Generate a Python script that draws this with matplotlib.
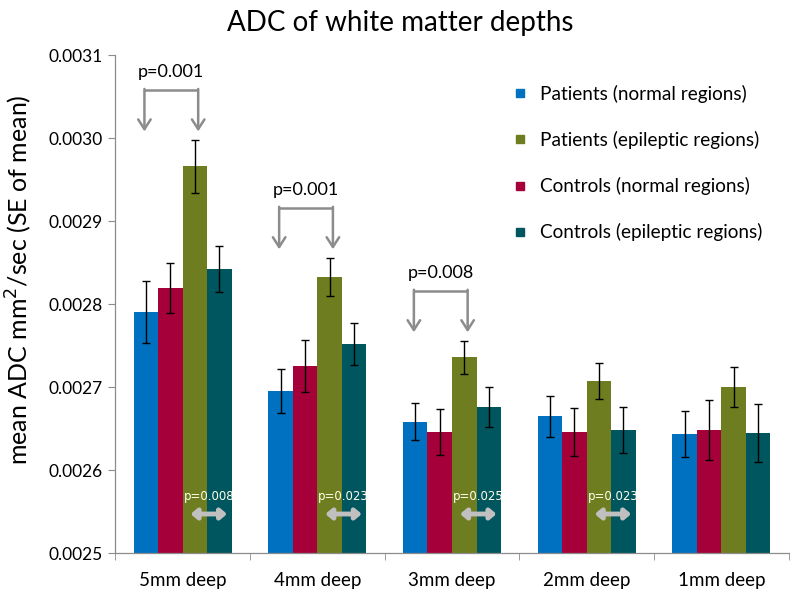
import numpy as np
import matplotlib
matplotlib.use("Agg")
import matplotlib.pyplot as plt
from matplotlib.lines import Line2D

plt.rcParams["font.family"] = ["Lato", "DejaVu Sans"]

# data
CATEGORIES = ["5mm deep", "4mm deep", "3mm deep", "2mm deep", "1mm deep"]

SERIES_NAMES = [
    "Patients (normal regions)",
    "Controls (normal regions)",
    "Patients (epileptic regions)",
    "Controls (epileptic regions)",
]

patients_normal = [0.002790, 0.002695, 0.002658, 0.002665, 0.002643]
controls_normal = [0.002819, 0.002725, 0.002646, 0.002646, 0.002648]
patients_epileptic = [0.002966, 0.002833, 0.002736, 0.002707, 0.002700]
controls_epileptic = [0.002842, 0.002752, 0.002676, 0.002648, 0.002645]

patients_normal_se = [0.0000373, 0.0000265, 0.0000223, 0.0000247, 0.0000277]
controls_normal_se = [0.0000300, 0.0000313, 0.0000277, 0.0000290, 0.0000360]
patients_epileptic_se = [0.0000320, 0.0000230, 0.0000200, 0.0000217, 0.0000240]
controls_epileptic_se = [0.0000280, 0.0000253, 0.0000240, 0.0000277, 0.0000350]

# patients normal vs patients epileptic (bracket above)
bracket_groups = [0, 1, 2]
bracket_labels = ["p=0.001", "p=0.001", "p=0.008"]

# patients epileptic vs controls epileptic (arrow near bottom)
bottom_groups = [0, 1, 2, 3]
bottom_labels = ["p=0.008", "p=0.023", "p=0.025", "p=0.023"]

COLORS = ["#0070C0", "#A5003A", "#6E7D1F", "#00565F"]
LEGEND_ORDER = [0, 2, 1, 3]
GRAY = "#8C8C8C"


def main():
    fig = plt.figure(figsize=(8.0, 5.97), dpi=100)
    ax = fig.add_axes([0.144, 0.0737, 0.842, 0.834])

    values = [patients_normal, controls_normal, patients_epileptic, controls_epileptic]
    errors = [patients_normal_se, controls_normal_se, patients_epileptic_se, controls_epileptic_se]

    x = np.arange(len(CATEGORIES))
    width = 0.182

    for i, (vals, errs) in enumerate(zip(values, errors)):
        offset = (i - 1.5) * width
        ax.bar(
            x + offset,
            vals,
            width=width,
            color=COLORS[i],
            yerr=errs,
            error_kw=dict(ecolor="black", elinewidth=1.0, capsize=3, capthick=1.0),
            zorder=2,
        )

    # brackets between patient normal and patient epileptic bars
    for g, label in zip(bracket_groups, bracket_labels):
        xl = x[g] - 1.5 * width - 0.01
        xr = x[g] + 0.5 * width + 0.025
        tip = patients_epileptic[g] + patients_epileptic_se[g] + 0.00001
        top = tip + 0.00005
        ax.plot([xl, xr], [top, top], color=GRAY, lw=1.8, solid_capstyle="butt", zorder=3)
        for xa in (xl, xr):
            ax.annotate(
                "",
                xy=(xa, tip),
                xytext=(xa, top + 0.0000012),
                arrowprops=dict(arrowstyle="->,head_length=0.7,head_width=0.45",
                                color=GRAY, lw=1.8, shrinkA=0, shrinkB=0),
                zorder=3,
            )
        ax.text((xl + xr) / 2, top + 0.000022, label, ha="center", va="center",
                fontsize=13, color="black")

    # double arrows near the bottom
    for g, label in zip(bottom_groups, bottom_labels):
        ax.annotate(
            "",
            xy=(x[g] + 0.33, 0.002547),
            xytext=(x[g] + 0.06, 0.002547),
            arrowprops=dict(arrowstyle="<|-|>,head_length=0.35,head_width=0.3",
                            color="#C0C0C0", lw=3.5, shrinkA=0, shrinkB=0),
            zorder=3,
        )
        ax.text(x[g] + 0.195, 0.0025675, label, ha="center", va="center",
                fontsize=8.5, color="#FFFFE8", family=["DejaVu Sans"], zorder=4)

    ax.set_xlim(-0.5, len(CATEGORIES) - 0.5)
    ax.set_ylim(0.0025, 0.0031)
    yticks = np.arange(0.0025, 0.00311, 0.0001)
    ax.set_yticks(yticks)
    ax.set_yticklabels([f"{v:.4f}" for v in yticks], fontsize=12.5)

    ax.set_xticks(x)
    ax.set_xticklabels(CATEGORIES, fontsize=13.5)
    ax.set_xticks(np.arange(-0.5, len(CATEGORIES), 1.0), minor=True)
    ax.tick_params(axis="x", which="major", length=0, pad=14)
    ax.tick_params(axis="x", which="minor", length=5, color=GRAY)
    ax.tick_params(axis="y", length=5, color=GRAY, pad=4)

    for side in ("top", "right"):
        ax.spines[side].set_visible(False)
    for side in ("left", "bottom"):
        ax.spines[side].set_color(GRAY)
        ax.spines[side].set_linewidth(0.9)

    ax.set_ylabel("mean ADC mm$^2$/sec (SE of mean)", fontsize=18)
    ax.yaxis.set_label_coords(-0.12, 0.548)
    fig.text(0.5, 0.962, "ADC of white matter depths", ha="center", va="center", fontsize=20)

    handles = [
        Line2D([], [], marker="s", linestyle="none", markersize=6,
               markerfacecolor=COLORS[i], markeredgecolor=COLORS[i])
        for i in LEGEND_ORDER
    ]
    labels = [SERIES_NAMES[i] for i in LEGEND_ORDER]
    ax.legend(
        handles, labels,
        loc="upper left",
        bbox_to_anchor=(0.628, 0.874),
        bbox_transform=fig.transFigure,
        frameon=False,
        fontsize=13.7,
        handlelength=0.8,
        handletextpad=0.7,
        labelspacing=1.48,
        borderpad=0,
    )

    fig.savefig("out.png", dpi=100)
    plt.close(fig)


if __name__ == "__main__":
    main()
